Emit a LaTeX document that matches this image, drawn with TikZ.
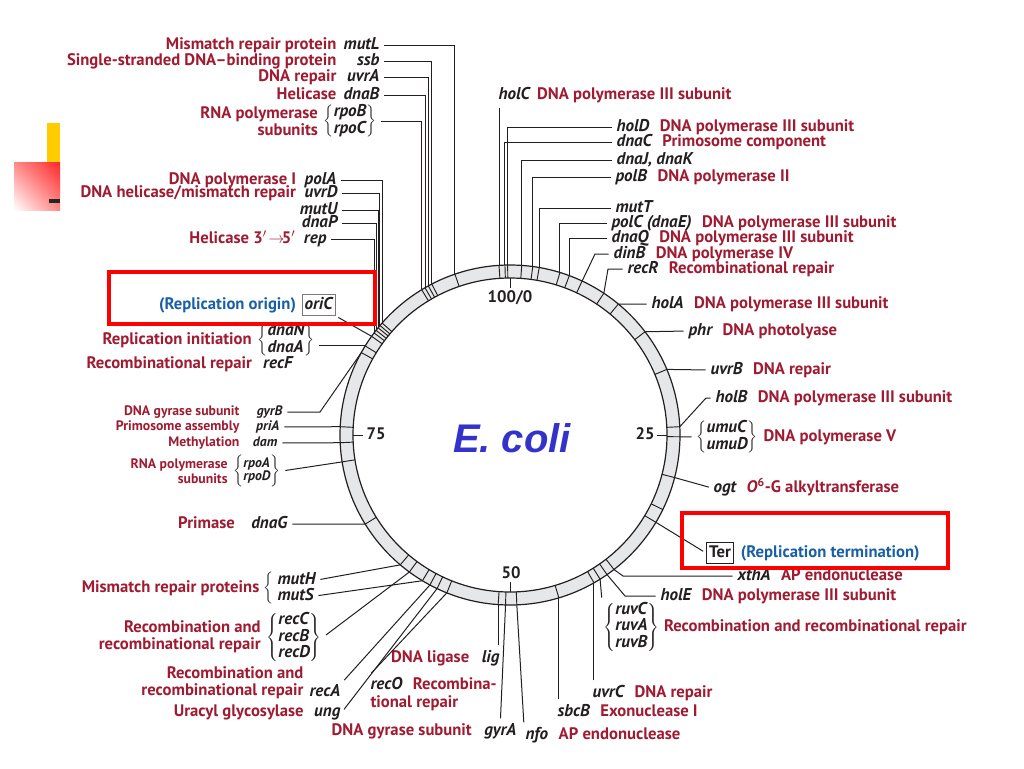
\documentclass[tikz,border=0pt]{standalone}
\usepackage{fontspec}
\usetikzlibrary{positioning,shadings}
\newfontfamily\ptsans{PT Sans}
\newfontfamily\libsans{Liberation Sans}
\newcommand{\labfont}{\ptsans\bfseries\fontsize{12.5}{13}\selectfont}
\newcommand{\genfont}{\ptsans\bfseries\itshape\fontsize{12.8}{13}\selectfont}
\newcommand{\slabfont}{\ptsans\bfseries\fontsize{10.3}{11.5}\selectfont}
\newcommand{\sgenfont}{\ptsans\bfseries\itshape\fontsize{10.3}{11.5}\selectfont}
\newcommand{\twogenes}[2]{\(\left\{\begin{tabular}{@{}l@{}}#1\\#2\end{tabular}\right\}\)}
\newcommand{\threegenes}[3]{\(\left\{\begin{tabular}{@{}l@{}}#1\\#2\\#3\end{tabular}\right\}\)}
\renewcommand{\arraystretch}{0.8}
\definecolor{dred}{RGB}{158,27,50}
\definecolor{ink}{RGB}{35,31,32}
\definecolor{oriblue}{RGB}{25,95,165}
\definecolor{ecblue}{RGB}{51,51,204}
\definecolor{ringgray}{RGB}{230,231,232}
\definecolor{barred}{RGB}{255,40,40}
\definecolor{baryellow}{RGB}{255,204,0}

\begin{document}
\begin{tikzpicture}[x=0.75pt,y=0.75pt,yscale=-1,xscale=1,
  desc/.style={font=\labfont, text=dred, inner sep=1pt, text height=9pt, text depth=2.7pt},
  desctwo/.style={font=\labfont, text=dred, inner sep=1pt, align=right},
  sdesc/.style={font=\slabfont, text=dred, inner sep=1pt, text height=7.5pt, text depth=2.2pt},
  sdesctwo/.style={font=\slabfont, text=dred, inner sep=1pt, align=right},
  gene/.style={font=\genfont, text=ink, inner sep=1pt, text height=9pt, text depth=2.7pt},
  genegrp/.style={font=\genfont, text=ink, inner sep=1pt},
  sgene/.style={font=\sgenfont, text=ink, inner sep=1pt, text height=7.5pt, text depth=2.2pt},
  sgenegrp/.style={font=\sgenfont, text=ink, inner sep=1pt},
  note/.style={font=\labfont, text=oriblue, inner sep=1pt, text height=9pt, text depth=2.7pt},
  lead/.style={draw=ink, line width=0.75pt, shorten <=2.5pt},
  tickline/.style={draw=ink, line width=0.7pt},
  num/.style={font=\ptsans\bfseries\fontsize{12.5}{13}\selectfont, text=ink, inner sep=1pt},
  hilite/.style={draw=red, line width=3pt}]

\useasboundingbox (0,0) rectangle (1024,768);

% ring
\coordinate (c) at (510,435);
\draw[tickline, line width=0.9pt, fill=ringgray, even odd rule] (c) circle [radius=170] (c) circle [radius=157];

% gene marks on the ring
\draw[tickline] (c) ++(-108.9:157) -- ++(-108.9:13) coordinate (r-mutL);
\draw[tickline] (c) ++(-117.4:157) -- ++(-117.4:13) coordinate (r-ssb);
\draw[tickline] (c) ++(-118.7:157) -- ++(-118.7:13) coordinate (r-uvrA);
\draw[tickline] (c) ++(-120.0:157) -- ++(-120.0:13) coordinate (r-dnaB);
\draw[tickline] (c) ++(-121.3:157) -- ++(-121.3:13) coordinate (r-rpoBC);
\draw[tickline] (c) ++(-138.8:157) -- ++(-138.8:13) coordinate (r-polA);
\draw[tickline] (c) ++(-139.9:157) -- ++(-139.9:13) coordinate (r-uvrD);
\draw[tickline] (c) ++(-140.9:157) -- ++(-140.9:13) coordinate (r-mutU);
\draw[tickline] (c) ++(-142.0:157) -- ++(-142.0:13) coordinate (r-dnaP);
\draw[tickline] (c) ++(-143.1:157) -- ++(-143.1:13) coordinate (r-rep);
\draw[tickline] (c) ++(-144.5:157) -- ++(-144.5:13) coordinate (r-oriC);
\draw[tickline] (c) ++(-148.4:157) -- ++(-148.4:13) coordinate (r-dnaA);
\draw[tickline] (c) ++(-151.0:157) -- ++(-151.0:13) coordinate (r-gyrB);
\draw[tickline] (c) ++(-177.2:157) -- ++(-177.2:13) coordinate (r-priA);
\draw[tickline] (c) ++(177.4:157) -- ++(177.4:13) coordinate (r-dam);
\draw[tickline] (c) ++(170.9:157) -- ++(170.9:13) coordinate (r-rpoAD);
\draw[tickline] (c) ++(148.4:157) -- ++(148.4:13) coordinate (r-dnaG);
\draw[tickline] (c) ++(130.2:157) -- ++(130.2:13) coordinate (r-mutH);
\draw[tickline] (c) ++(126.3:157) -- ++(126.3:13) coordinate (r-recBCD);
\draw[tickline] (c) ++(121.0:157) -- ++(121.0:13) coordinate (r-mutS);
\draw[tickline] (c) ++(118.1:157) -- ++(118.1:13) coordinate (r-recA);
\draw[tickline] (c) ++(115.4:157) -- ++(115.4:13) coordinate (r-ung);
\draw[tickline] (c) ++(111.8:157) -- ++(111.8:13) coordinate (r-recO);
\draw[tickline] (c) ++(94.0:157) -- ++(94.0:13) coordinate (r-lig);
\draw[tickline] (c) ++(91.5:157) -- ++(91.5:13) coordinate (r-gyrA);
\draw[tickline] (c) ++(87.7:157) -- ++(87.7:13) coordinate (r-nfo);
\draw[tickline] (c) ++(73.3:157) -- ++(73.3:13) coordinate (r-sbcB);
\draw[tickline] (c) ++(60.4:157) -- ++(60.4:13) coordinate (r-uvrC);
\draw[tickline] (c) ++(58.0:157) -- ++(58.0:13) coordinate (r-ruv);
\draw[tickline] (c) ++(55.2:157) -- ++(55.2:13) coordinate (r-holE);
\draw[tickline] (c) ++(52.3:157) -- ++(52.3:13) coordinate (r-xthA);
\draw[tickline] (c) ++(30.9:157) -- ++(30.9:13) coordinate (r-Ter);
\draw[tickline] (c) ++(26.0:157) -- ++(26.0:13) coordinate (r-extra);
\draw[tickline] (c) ++(14.5:157) -- ++(14.5:13) coordinate (r-ogt);
\draw[tickline] (c) ++(0.6:157) -- ++(0.6:13) coordinate (r-umu);
\draw[tickline] (c) ++(-2.8:157) -- ++(-2.8:13) coordinate (r-holB);
\draw[tickline] (c) ++(-22.7:157) -- ++(-22.7:13) coordinate (r-uvrB);
\draw[tickline] (c) ++(-37.4:157) -- ++(-37.4:13) coordinate (r-phr);
\draw[tickline] (c) ++(-50.4:157) -- ++(-50.4:13) coordinate (r-holA);
\draw[tickline] (c) ++(-56.5:157) -- ++(-56.5:13) coordinate (r-recR);
\draw[tickline] (c) ++(-64.9:157) -- ++(-64.9:13) coordinate (r-dinB);
\draw[tickline] (c) ++(-69.6:157) -- ++(-69.6:13) coordinate (r-dnaQ);
\draw[tickline] (c) ++(-72.9:157) -- ++(-72.9:13) coordinate (r-polC);
\draw[tickline] (c) ++(-80.1:157) -- ++(-80.1:13) coordinate (r-mutT);
\draw[tickline] (c) ++(-82.3:157) -- ++(-82.3:13) coordinate (r-polB);
\draw[tickline] (c) ++(-86.05:157) -- ++(-86.05:13) coordinate (r-dnaJK);
\draw[tickline] (c) ++(-90.8:157) -- ++(-90.8:13) coordinate (r-holD);
\draw[tickline] (c) ++(-91.7:157) -- ++(-91.7:13) coordinate (r-dnaC);
\draw[tickline] (c) ++(-93.7:157) -- ++(-93.7:13) coordinate (r-holC);

% minute ticks and numbers
\draw[tickline] (c) ++(-90:147) -- ++(-90:10);
\draw[tickline] (c) ++(0:147) -- ++(0:10);
\draw[tickline] (c) ++(90:147) -- ++(90:10);
\draw[tickline] (c) ++(180:147) -- ++(180:10);
\node[num] (n100) at (510,298) {100/0};
\node[num] (n25) at (645,434) {25};
\node[num] (n50) at (511,573) {50};
\node[num] (n75) at (376,434) {75};
\node[font=\libsans\bfseries\itshape\fontsize{30}{30}\selectfont, text=ecblue] (ecoli) at (512,438) {E. coli};

% upper left labels
\node[gene, anchor=east] (mutL) at (381,45) {mutL};
\node[desc, anchor=east] (mutL-d) at (338,45) {Mismatch repair protein};
\node[gene, anchor=east] (ssb) at (381,61) {ssb};
\node[desc, anchor=east] (ssb-d) at (338,61) {Single-stranded DNA–binding protein};
\node[gene, anchor=east] (uvrA) at (381,77) {uvrA};
\node[desc, anchor=east] (uvrA-d) at (338,77) {DNA repair};
\node[gene, anchor=east] (dnaB) at (381,95) {dnaB};
\node[desc, anchor=east] (dnaB-d) at (338,95) {Helicase};
\node[genegrp, anchor=east] (rpoBC) at (378,121) {\twogenes{rpoB}{rpoC}};
\node[desctwo, left=2pt of rpoBC] (rpoBC-d) {RNA polymerase\\subunits};

\node[gene, anchor=east] (polA) at (338,180) {polA};
\node[desc, left=4pt of polA] (polA-d) {DNA polymerase I};
\node[gene, anchor=east] (uvrD) at (339,193) {uvrD};
\node[desc, left=4pt of uvrD] (uvrD-d) {DNA helicase/mismatch repair};
\node[gene, anchor=east] (mutU) at (339,210) {mutU};
\node[gene, anchor=east] (dnaP) at (339,223) {dnaP};
\node[gene, anchor=east] (rep) at (328,239) {rep};
\node[desc, left=4pt of rep] (rep-d) {Helicase 3$'\!\rightarrow\!$5$'$};

% left middle labels
\node[gene, draw=ink!60, line width=0.5pt, inner sep=2pt, anchor=center] (oriC) at (318.5,305) {oriC};
\node[note, left=3pt of oriC] (oriC-d) {(Replication origin)};
\node[genegrp, anchor=east] (dnaNA) at (316,340) {\twogenes{dnaN}{dnaA}};
\node[desc, left=2pt of dnaNA] (dnaNA-d) {Replication initiation};
\node[gene, anchor=east] (recF) at (294,364) {recF};
\node[desc, left=6pt of recF] (recF-d) {Recombinational repair};
\node[sgene, anchor=east] (gyrB) at (284,412) {gyrB};
\node[sdesc, anchor=east] (gyrB-d) at (241,412) {DNA gyrase subunit};
\node[sgene, anchor=east] (priA) at (281,427) {priA};
\node[sdesc, anchor=east] (priA-d) at (241,427) {Primosome assembly};
\node[sgene, anchor=east] (dam) at (279,443) {dam};
\node[sdesc, anchor=east] (dam-d) at (241,443) {Methylation};
\node[sgenegrp, anchor=east] (rpoAD) at (282,471) {\twogenes{rpoA}{rpoD}};
\node[sdesctwo, left=2pt of rpoAD] (rpoAD-d) {RNA polymerase\\subunits};
\node[gene, anchor=east] (dnaG) at (289,524) {dnaG};
\node[desc, left=10pt of dnaG] (dnaG-d) {Primase};

% lower left labels
\node[gene, anchor=west] (mutH) at (276,580) {mutH};
\node[gene, anchor=west] (mutS) at (276,596) {mutS};
\node[genegrp, anchor=east] (mutHS) at (277,588) {\(\left\{\vphantom{\begin{tabular}{c}M\\M\end{tabular}}\right.\)};
\node[desc, left=1pt of mutHS] (mutHS-d) {Mismatch repair proteins};
\node[genegrp, anchor=west] (recBCD) at (265,637) {\threegenes{recC}{recB}{recD}};
\node[desctwo, left=2pt of recBCD] (recBCD-d) {Recombination and\\recombinational repair};
\node[gene, anchor=east] (recA) at (342,692) {recA};
\node[desctwo, anchor=east] (recA-d) at (305,683) {Recombination and\\recombinational repair};
\node[gene, anchor=east] (ung) at (342,712) {ung};
\node[desc, left=5.5pt of ung] (ung-d) {Uracyl glycosylase};
\node[gene, anchor=west] (recO) at (369,685) {recO};
\node[desc, right=5.5pt of recO] (recO-d) {Recombina-};
\node[desc, anchor=west] (recO-d2) at (369,703) {tional repair};

% bottom labels
\node[gene, anchor=east] (lig) at (501,658) {lig};
\node[desc, left=7pt of lig] (lig-d) {DNA ligase};
\node[gene, anchor=east] (gyrA) at (518,731) {gyrA};
\node[desc, left=7pt of gyrA] (gyrA-d) {DNA gyrase subunit};
\node[gene, anchor=west] (nfo) at (524,735) {nfo};
\node[desc, right=5.5pt of nfo] (nfo-d) {AP endonuclease};
\node[gene, anchor=west] (sbcB) at (556,712) {sbcB};
\node[desc, right=5.5pt of sbcB] (sbcB-d) {Exonuclease I};
\node[gene, anchor=west] (uvrC) at (591,693) {uvrC};
\node[desc, right=5.5pt of uvrC] (uvrC-d) {DNA repair};

% lower right labels
\node[genegrp, anchor=west] (ruv) at (602,627) {\threegenes{ruvC}{ruvA}{ruvB}};
\node[desc, right=1pt of ruv] (ruv-d) {Recombination and recombinational repair};
\node[gene, anchor=west] (holE) at (659,596) {holE};
\node[desc, right=5.5pt of holE] (holE-d) {DNA polymerase III subunit};
\node[gene, anchor=west] (xthA) at (736,576) {xthA};
\node[desc, right=5.5pt of xthA] (xthA-d) {AP endonuclease};
\node[desc, text=ink, draw=ink, line width=0.8pt, inner sep=2pt, anchor=west] (Ter) at (706,553) {Ter};
\node[note, right=4pt of Ter] (Ter-d) {(Replication termination)};
\node[gene, anchor=west] (ogt) at (712,488) {ogt};
\node[desc, right=5.5pt of ogt] (ogt-d) {\textit{O}\textsuperscript{6}-G alkyltransferase};
\node[genegrp, anchor=west] (umu) at (695,437) {\twogenes{umuC}{umuD}};
\node[desc, right=2pt of umu] (umu-d) {DNA polymerase V};

% right labels
\node[gene, anchor=west] (holB) at (714,398) {holB};
\node[desc, right=5.5pt of holB] (holB-d) {DNA polymerase III subunit};
\node[gene, anchor=west] (uvrB) at (709,370) {uvrB};
\node[desc, right=5.5pt of uvrB] (uvrB-d) {DNA repair};
\node[gene, anchor=west] (phr) at (687,331) {phr};
\node[desc, right=5.5pt of phr] (phr-d) {DNA photolyase};
\node[gene, anchor=west] (holA) at (650,304) {holA};
\node[desc, right=5.5pt of holA] (holA-d) {DNA polymerase III subunit};

% upper right labels
\node[gene, anchor=west] (recR) at (626,269) {recR};
\node[desc, right=5.5pt of recR] (recR-d) {Recombinational repair};
\node[gene, anchor=west] (dinB) at (612,254) {dinB};
\node[desc, right=5.5pt of dinB] (dinB-d) {DNA polymerase IV};
\node[gene, anchor=west] (dnaQ) at (610,238.5) {dnaQ};
\node[desc, right=5.5pt of dnaQ] (dnaQ-d) {DNA polymerase III subunit};
\node[gene, anchor=west] (polC) at (610,223) {polC (dnaE)};
\node[desc, right=5.5pt of polC] (polC-d) {DNA polymerase III subunit};
\node[gene, anchor=west] (mutT) at (614,208) {mutT};
\node[gene, anchor=west] (polB) at (614,177.5) {polB};
\node[desc, right=5.5pt of polB] (polB-d) {DNA polymerase II};
\node[gene, anchor=west] (dnaJK) at (615,160) {dnaJ, dnaK};
\node[gene, anchor=west] (dnaC) at (615,142) {dnaC};
\node[desc, right=5.5pt of dnaC] (dnaC-d) {Primosome component};
\node[gene, anchor=west] (holD) at (615,127) {holD};
\node[desc, right=5.5pt of holD] (holD-d) {DNA polymerase III subunit};
\node[gene, anchor=west] (holC) at (497,95) {holC};
\node[desc, right=3pt of holC] (holC-d) {DNA polymerase III subunit};

% leaders
\draw[lead] (mutL.east) -| (r-mutL);
\draw[lead] (ssb.east) -| (r-ssb);
\draw[lead] (uvrA.east) -| (r-uvrA);
\draw[lead] (dnaB.east) -| (r-dnaB);
\draw[lead] (rpoBC.east) -| (r-rpoBC);
\draw[lead] (polA.east) -| (r-polA);
\draw[lead] (uvrD.east) -| (r-uvrD);
\draw[lead] (mutU.east) -| (r-mutU);
\draw[lead] (dnaP.east) -| (r-dnaP);
\draw[lead] (rep.east) -| (r-rep);
\draw[lead] (oriC.south east) -- (r-oriC);
\draw[lead] (dnaNA.east |- r-dnaA) -- (r-dnaA);
\draw[lead] (gyrB.east) -- ++(36,0) -- (r-gyrB);
\draw[lead] (priA.east) -- (r-priA);
\draw[lead] (dam.east) -- (r-dam);
\draw[lead] (rpoAD.east) -- (r-rpoAD);
\draw[lead] (dnaG.east) -- (r-dnaG);
\draw[lead] (mutH.east) -- (r-mutH);
\draw[lead] (mutS.east) -- (r-mutS);
\draw[lead] (recBCD.east) -- (r-recBCD);
\draw[lead] (recA.north east) -- (r-recA);
\draw[lead] (ung.east) -- (r-ung);
\draw[lead] (recO.north west) -- (r-recO);
\draw[lead] (r-lig |- lig.north) -- (r-lig);
\draw[lead] (gyrA.north) -- (r-gyrA);
\draw[lead] (nfo.north west) -- (r-nfo);
\draw[lead] (r-sbcB |- sbcB.north) -- (r-sbcB);
\draw[lead] (r-uvrC |- uvrC.north) -- (r-uvrC);
\draw[lead] (ruv.north west) -- (r-ruv);
\draw[lead] (holE.west) -- ++(-34,0) -- (r-holE);
\draw[lead] (xthA.west) -- ++(-113,0) -- (r-xthA);
\draw[lead] (Ter.west) -- (r-Ter);
\draw[lead] (ogt.west) -- (r-ogt);
\draw[lead] (umu.west) -- (r-umu);
\draw[lead] (holB.west) -- ++(-8,0) -- (r-holB);
\draw[lead] (uvrB.west) -- (r-uvrB);
\draw[lead] (phr.west) -- (r-phr);
\draw[lead] (holA.west) -- (r-holA);
\draw[lead] (recR.west) -- ++(-18,0) -- (r-recR);
\draw[lead] (dinB.west) -- ++(-17,0) -- (r-dinB);
\draw[lead] (dnaQ.west) -| (r-dnaQ);
\draw[lead] (polC.west) -| (r-polC);
\draw[lead] (mutT.west) -| (r-mutT);
\draw[lead] (polB.west) -| (r-polB);
\draw[lead] (dnaJK.west) -| (r-dnaJK);
\draw[lead] (dnaC.west) -| (r-dnaC);
\draw[lead] (holD.west) -| (r-holD);
\draw[lead] (r-holC |- holC.south) -- (r-holC);

% highlight boxes
\draw[hilite] (109,272) rectangle (375,324);
\draw[hilite] (682,513) rectangle (948,568);

% slide decoration
\fill[baryellow] (47,123) rectangle (60,162);
\shade[lower left=white, upper right=barred, upper left=barred!55, lower right=barred!55] (14,162) rectangle (60,210);
\fill[black!85] (49,199) rectangle (60,203);

\end{tikzpicture}
\end{document}
